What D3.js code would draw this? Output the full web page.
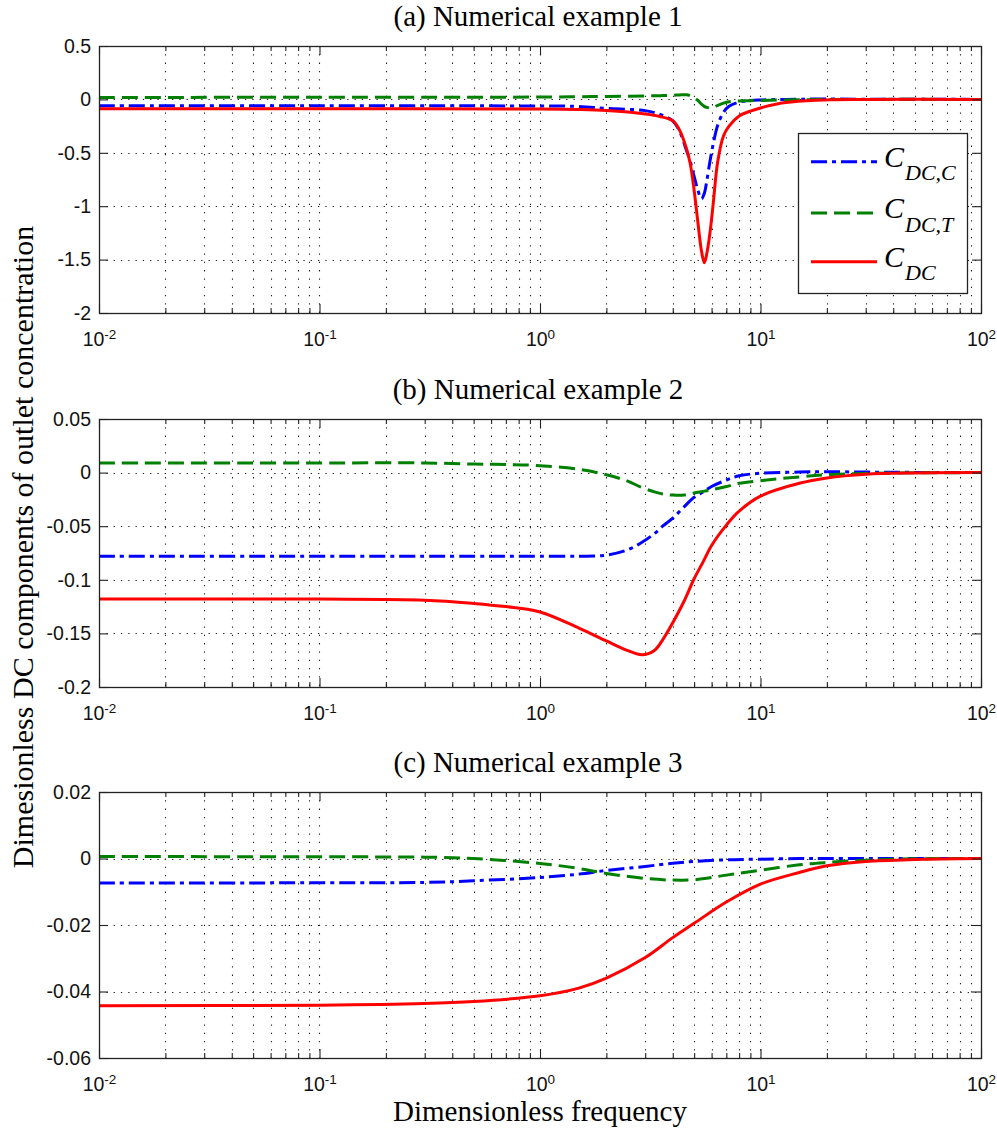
<!DOCTYPE html>
<html>
<head>
<meta charset="utf-8">
<script src="https://cdn.jsdelivr.net/npm/d3@7/dist/d3.min.js"></script>
<style>
  html, body { margin: 0; padding: 0; background: #fff; }
  svg { display: block; }
</style>
</head>
<body>
<svg id="chart" width="997" height="1135"></svg>
<script>
// ---- data: dimensionless DC components vs. dimensionless frequency ----
const seriesNames = ["DC,C", "DC,T", "DC"];
const panelTitles = ["(a) Numerical example 1", "(b) Numerical example 2", "(c) Numerical example 3"];

// (a) Numerical example 1
const freqA = [0.01, 0.1, 1, 1.5, 2, 3, 3.5, 4, 4.3, 4.6, 4.8, 5.0, 5.2, 5.4, 5.56, 5.7, 5.9, 6.1, 6.4, 6.8, 7.2, 8, 9, 10, 13, 18, 30, 100];
const cdccA = [-0.06, -0.06, -0.062, -0.066, -0.085, -0.105, -0.14, -0.2, -0.3, -0.47, -0.58, -0.72, -0.85, -0.93, -0.88, -0.77, -0.58, -0.42, -0.24, -0.12, -0.065, -0.025, -0.01, -0.005, 0, 0.003, 0.002, 0];
const cdctA = [0.018, 0.02, 0.022, 0.025, 0.028, 0.032, 0.035, 0.038, 0.042, 0.043, 0.035, 0.015, -0.01, -0.045, -0.065, -0.075, -0.08, -0.075, -0.055, -0.035, -0.022, -0.015, -0.012, -0.01, -0.005, -0.002, 0, 0];
const cdcA  = [-0.088, -0.088, -0.09, -0.095, -0.105, -0.137, -0.16, -0.2, -0.29, -0.45, -0.6, -0.85, -1.15, -1.42, -1.53, -1.45, -1.25, -0.98, -0.58, -0.34, -0.25, -0.155, -0.11, -0.08, -0.03, -0.008, -0.001, 0];

// (b) Numerical example 2
const freqB = [0.01, 0.1, 0.3, 0.5, 0.7, 1, 1.5, 2, 2.5, 2.9, 3.3, 3.6, 4, 4.5, 5, 5.5, 6, 7, 8, 10, 15, 20, 30, 50, 100];
const cdccB = [-0.078, -0.078, -0.078, -0.078, -0.078, -0.078, -0.078, -0.077, -0.072, -0.065, -0.057, -0.05, -0.0425, -0.032, -0.023, -0.018, -0.013, -0.007, -0.003, -0.0006, 0.0005, 0.0008, 0.0005, 0.0002, 0];
const cdctB = [0.009, 0.009, 0.009, 0.008, 0.0075, 0.0065, 0.003, -0.002, -0.008, -0.014, -0.018, -0.02, -0.021, -0.021, -0.019, -0.0175, -0.016, -0.013, -0.010, -0.0075, -0.004, -0.002, -0.0008, -0.0002, 0];
const cdcB  = [-0.118, -0.118, -0.119, -0.122, -0.125, -0.13, -0.145, -0.157, -0.166, -0.17, -0.166, -0.156, -0.14, -0.12, -0.099, -0.083, -0.068, -0.049, -0.036, -0.022, -0.01, -0.005, -0.0015, -0.0003, 0];

// (c) Numerical example 3
const freqC = [0.01, 0.1, 0.3, 0.5, 1, 1.5, 2, 3, 4, 5, 7, 10, 15, 20, 30, 50, 100];
const cdccC = [-0.0074, -0.0073, -0.0072, -0.0067, -0.0057, -0.0047, -0.0036, -0.0024, -0.0014, -0.0009, -0.0004, -0.0002, 0, 0, 0, 0, 0];
const cdctC = [0.0006, 0.0005, 0.0004, 0, -0.0015, -0.003, -0.0045, -0.006, -0.0065, -0.0064, -0.005, -0.0035, -0.0019, -0.0012, -0.0005, -0.0001, 0];
const cdcC  = [-0.0443, -0.0441, -0.0436, -0.043, -0.0413, -0.039, -0.036, -0.0298, -0.0238, -0.0195, -0.0131, -0.0077, -0.0042, -0.0022, -0.0009, -0.0003, 0];

// axis ticks
const xDecades = [0.01, 0.1, 1, 10, 100];
const xExponents = ["-2", "-1", "0", "1", "2"];
const yTicksA = [0.5, 0, -0.5, -1, -1.5, -2];
const yTicksB = [0.05, 0, -0.05, -0.1, -0.15, -0.2];
const yTicksC = [0.02, 0, -0.02, -0.04, -0.06];

// ---- layout ----
const svg = d3.select("#chart");
const X0 = 99, X1 = 981;
const panels = [
  { title: panelTitles[0], top: 46,  bottom: 313,  ticks: yTicksA, freq: freqA, series: [cdccA, cdctA, cdcA] },
  { title: panelTitles[1], top: 419, bottom: 687,  ticks: yTicksB, freq: freqB, series: [cdccB, cdctB, cdcB] },
  { title: panelTitles[2], top: 792, bottom: 1058, ticks: yTicksC, freq: freqC, series: [cdccC, cdctC, cdcC] }
];

const styles = [
  { color: "#0000ff", dash: "16,5,4,5" },
  { color: "#008000", dash: "16,7" },
  { color: "#ff0000", dash: null }
];

const x = d3.scaleLog().domain([0.01, 100]).range([X0, X1]);

// minor log positions 2..9 in each decade
const minorTicks = [];
xDecades.slice(0, -1).forEach(d => { for (let k = 2; k <= 9; k++) minorTicks.push(d * k); });
const allXGrid = minorTicks.concat(xDecades.slice(1, -1));

const tickFont = "'Liberation Sans', Arial, sans-serif";
const serifFont = "'Liberation Serif', 'Times New Roman', serif";

panels.forEach((p, i) => {
  const yExt = d3.extent(p.ticks);
  const y = d3.scaleLinear().domain(yExt).range([p.bottom, p.top]);
  const g = svg.append("g");

  const clipId = "clip" + i;
  svg.append("clipPath").attr("id", clipId)
    .append("rect").attr("x", X0).attr("y", p.top).attr("width", X1 - X0).attr("height", p.bottom - p.top);

  // dotted grid
  const grid = g.append("g").attr("stroke", "#222").attr("stroke-width", 1.1);
  grid.selectAll("line.vg").data(allXGrid).join("line")
    .attr("x1", d => Math.round(x(d)) + 0.5).attr("x2", d => Math.round(x(d)) + 0.5)
    .attr("y1", p.top).attr("y2", p.bottom)
    .attr("stroke-dasharray", "1.3,7");
  grid.selectAll("line.hg").data(p.ticks.filter(t => t !== yExt[0] && t !== yExt[1])).join("line")
    .attr("x1", X0).attr("x2", X1)
    .attr("y1", d => Math.round(y(d)) + 0.5).attr("y2", d => Math.round(y(d)) + 0.5)
    .attr("stroke-dasharray", "1.3,6");

  // curves
  const line = d3.line().x(d => x(d[0])).y(d => y(d[1])).curve(d3.curveCatmullRom.alpha(0.5));
  const curves = g.append("g").attr("clip-path", `url(#${clipId})`);
  p.series.forEach((vals, s) => {
    const pts = p.freq.map((f, k) => [f, vals[k]]);
    curves.append("path").datum(pts)
      .attr("d", line)
      .attr("fill", "none")
      .attr("stroke", styles[s].color)
      .attr("stroke-width", 3)
      .attr("stroke-dasharray", styles[s].dash)
      .attr("stroke-linejoin", "round");
  });

  // axes (ticks pointing inward)
  const yAxis = d3.axisLeft(y).tickValues(p.ticks).tickFormat(d => String(d))
    .tickSizeInner(-9).tickSizeOuter(0).tickPadding(8);
  const ya = g.append("g").attr("transform", `translate(${X0},0)`).call(yAxis);
  ya.select(".domain").remove();
  ya.selectAll(".tick text").attr("font-family", tickFont).attr("font-size", 19.5).attr("fill", "#111");

  const yRight = d3.axisRight(y).tickValues(p.ticks).tickFormat("").tickSizeInner(-9).tickSizeOuter(0);
  const yr = g.append("g").attr("transform", `translate(${X1},0)`).call(yRight);
  yr.select(".domain").remove();

  const xAxis = d3.axisBottom(x).tickValues(xDecades).tickFormat("")
    .tickSizeInner(-9).tickSizeOuter(0).tickPadding(19);
  const xa = g.append("g").attr("transform", `translate(0,${p.bottom})`).call(xAxis);
  xa.select(".domain").remove();
  xa.selectAll(".tick text")
    .attr("font-family", tickFont).attr("font-size", 19.5).attr("fill", "#111")
    .each(function(d, k) {
      const t = d3.select(this);
      t.append("tspan").text("10");
      t.append("tspan").attr("dy", "-0.5em").attr("font-size", 13.5).text(xExponents[k]);
    });

  const xMinor = d3.axisBottom(x).tickValues(minorTicks).tickFormat("").tickSizeInner(-5).tickSizeOuter(0);
  const xm = g.append("g").attr("transform", `translate(0,${p.bottom})`).call(xMinor);
  xm.select(".domain").remove();

  const xTop = d3.axisTop(x).tickValues(xDecades).tickFormat("").tickSizeInner(-9).tickSizeOuter(0);
  const xt = g.append("g").attr("transform", `translate(0,${p.top})`).call(xTop);
  xt.select(".domain").remove();
  const xTopMinor = d3.axisTop(x).tickValues(minorTicks).tickFormat("").tickSizeInner(-5).tickSizeOuter(0);
  const xtm = g.append("g").attr("transform", `translate(0,${p.top})`).call(xTopMinor);
  xtm.select(".domain").remove();

  g.selectAll(".tick line").attr("stroke", "#222").attr("stroke-width", 1.1);

  // axes box
  g.append("rect").attr("x", X0 + 0.5).attr("y", p.top + 0.5)
    .attr("width", X1 - X0).attr("height", p.bottom - p.top)
    .attr("fill", "none").attr("stroke", "#222").attr("stroke-width", 1.3);

  // title
  svg.append("text").attr("x", 538).attr("y", p.top - 20)
    .attr("text-anchor", "middle").attr("font-family", serifFont).attr("font-size", 29)
    .attr("fill", "#000").text(p.title);

  // legend (first panel only)
  if (i === 0) {
    const lg = svg.append("g");
    lg.append("rect").attr("x", 798.5).attr("y", 133.5).attr("width", 169).attr("height", 160)
      .attr("fill", "#fff").attr("stroke", "#222").attr("stroke-width", 1.3);
    const rows = [161.7, 213, 261.7];
    seriesNames.forEach((name, s) => {
      lg.append("line").attr("x1", 811).attr("x2", 877).attr("y1", rows[s]).attr("y2", rows[s])
        .attr("stroke", styles[s].color).attr("stroke-width", 3)
        .attr("stroke-dasharray", styles[s].dash);
      const t = lg.append("text").attr("x", 884).attr("y", rows[s] + 5)
        .attr("font-family", serifFont).attr("font-style", "italic").attr("font-size", 30).attr("fill", "#000");
      t.append("tspan").text("C");
      t.append("tspan").attr("x", 905).attr("y", rows[s] + 18.5).attr("font-size", 22).text(name);
    });
  }
});

// shared axis labels
svg.append("text").attr("x", 540).attr("y", 1121)
  .attr("text-anchor", "middle").attr("font-family", serifFont).attr("font-size", 29)
  .attr("fill", "#000").text("Dimensionless frequency");

svg.append("text").attr("transform", "translate(33,547) rotate(-90)")
  .attr("text-anchor", "middle").attr("font-family", serifFont).attr("font-size", 30)
  .attr("fill", "#000").text("Dimesionless DC components of outlet concentration");
</script>
</body>
</html>
